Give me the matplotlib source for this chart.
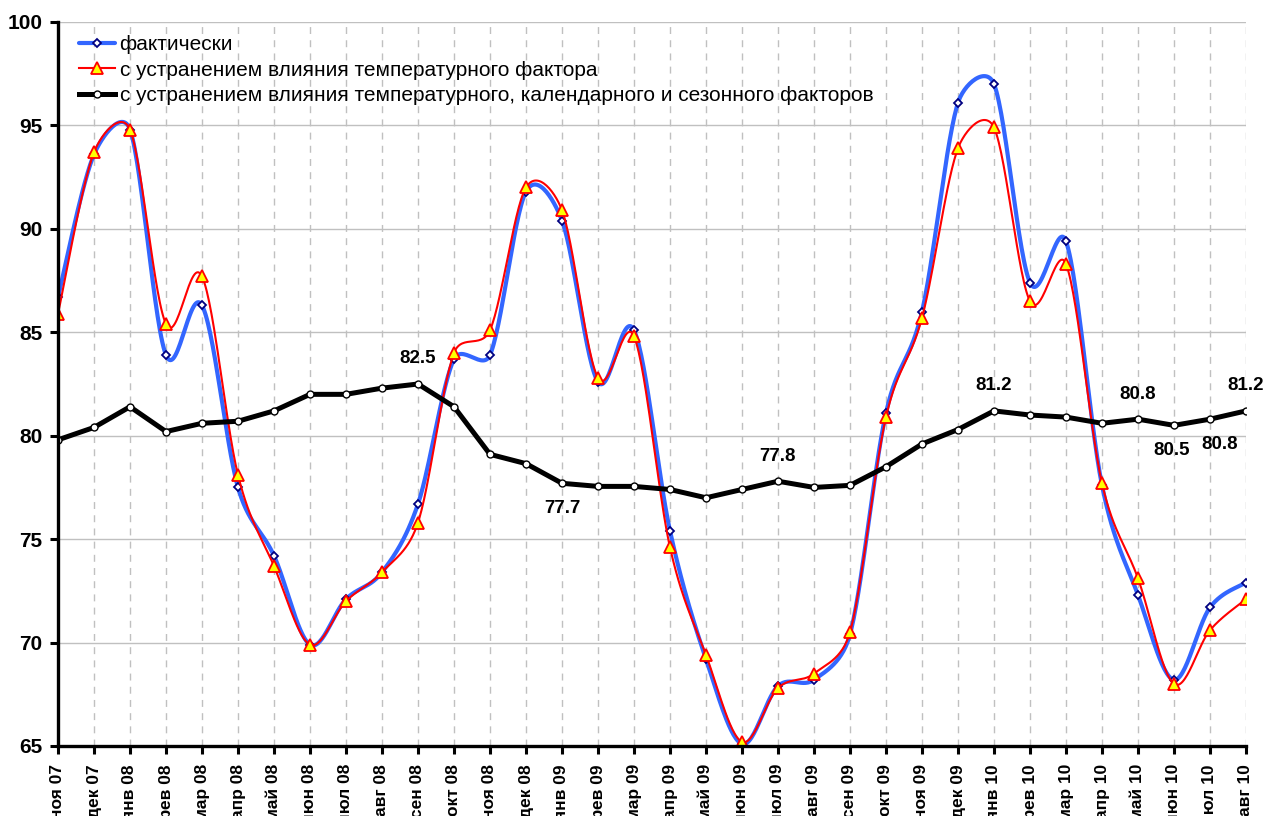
import numpy as np
import matplotlib
matplotlib.use("Agg")
import matplotlib.pyplot as plt

plt.rcParams['font.family'] = ['Liberation Sans', 'DejaVu Sans']

months = ["ноя 07", "дек 07", "янв 08", "фев 08", "мар 08", "апр 08", "май 08", "июн 08",
          "июл 08", "авг 08", "сен 08", "окт 08", "ноя 08", "дек 08", "янв 09", "фев 09",
          "мар 09", "апр 09", "май 09", "июн 09", "июл 09", "авг 09", "сен 09", "окт 09",
          "ноя 09", "дек 09", "янв 10", "фев 10", "мар 10", "апр 10", "май 10", "июн 10",
          "июл 10", "авг 10"]

actual = [86.7, 93.6, 94.8, 83.9, 86.3, 77.5, 74.2, 69.9, 72.1, 73.4, 76.7, 83.7, 83.9,
          91.8, 90.4, 82.6, 85.1, 75.4, 69.2, 65.1, 67.9, 68.2, 70.4, 81.1, 86.0, 96.1,
          97.0, 87.4, 89.4, 77.6, 72.3, 68.2, 71.7, 72.9]

temp_adj = [85.9, 93.7, 94.8, 85.4, 87.7, 78.1, 73.7, 69.9, 72.0, 73.4, 75.8, 84.0, 85.1,
            92.0, 90.9, 82.8, 84.8, 74.6, 69.4, 65.2, 67.8, 68.5, 70.5, 80.9, 85.7, 93.9,
            94.9, 86.5, 88.3, 77.7, 73.1, 68.0, 70.6, 72.1]

full_adj = [79.8, 80.4, 81.4, 80.2, 80.6, 80.7, 81.2, 82.0, 82.0, 82.3, 82.5, 81.4, 79.1,
            78.65, 77.7, 77.55, 77.55, 77.4, 77.0, 77.4, 77.8, 77.5, 77.6, 78.5, 79.6, 80.3,
            81.2, 81.0, 80.9, 80.6, 80.8, 80.5, 80.8, 81.2]

series_names = ["фактически",
                "с устранением влияния температурного фактора",
                "с устранением влияния температурного, календарного и сезонного факторов"]

label_idx = [10, 14, 20, 26, 30, 31, 32, 33]
label_side = ["above", "below", "above", "above", "above", "below", "below", "above"]
label_dx = [0, 0, 0, 0, 0, -2, 7, 0]


def smooth(ax, y, n=30):
    """Excel-like smoothed Bezier curve, computed in display space."""
    y = np.asarray(y, float)
    x = np.arange(len(y), dtype=float)
    P = ax.transData.transform(np.column_stack([x, y]))
    m = len(P)
    out = []
    t = np.linspace(0, 1, n, endpoint=False)[:, None]
    for i in range(m - 1):
        p0 = P[max(i - 1, 0)]
        p1 = P[i]
        p2 = P[i + 1]
        p3 = P[min(i + 2, m - 1)]
        d12 = np.linalg.norm(p2 - p1)
        d02 = np.linalg.norm(p2 - p0)
        d13 = np.linalg.norm(p3 - p1)
        f = 1 / 6 if d02 == 0 else min(1 / 6, d12 / (2 * d02))
        g = 1 / 6 if d13 == 0 else min(1 / 6, d12 / (2 * d13))
        c1 = p1 + (p2 - p0) * f
        c2 = p2 - (p3 - p1) * g
        b = (1 - t) ** 3 * p1 + 3 * (1 - t) ** 2 * t * c1 + 3 * (1 - t) * t ** 2 * c2 + t ** 3 * p2
        out.append(b)
    out.append(P[-1:])
    D = np.vstack(out)
    Dd = ax.transData.inverted().transform(D)
    marks = [i * n for i in range(m)]
    return Dd[:, 0], Dd[:, 1], marks


W, H = 1263, 816
fig = plt.figure(figsize=(W / 100, H / 100), dpi=100)
ax = fig.add_axes([58 / W, 1 - 746 / H, (1246 - 58) / W, (746 - 22) / H])

x = np.arange(len(months))
ax.set_xlim(0, len(months) - 1)
ax.set_ylim(65, 100)

# grid
for v in range(65, 101, 5):
    ax.axhline(v, color="#c0c0c0", lw=1.0, zorder=0)
for xi in x[1:]:
    ax.axvline(xi, color="#c0c0c0", lw=1.0, ls=(0, (5, 4.5)), zorder=0)

bx, by, bm = smooth(ax, actual)
ax.plot(bx, by, color="#3366ff", lw=3.0, marker="D", markevery=bm, markersize=4,
        markerfacecolor="white", markeredgecolor="#000080", markeredgewidth=1.3,
        label=series_names[0], zorder=3, solid_capstyle="round")

rx, ry, rm = smooth(ax, temp_adj)
ax.plot(rx, ry, color="#ff0000", lw=1.5, marker="^", markevery=rm, markersize=8,
        markerfacecolor="#ffff00", markeredgecolor="#ff0000", markeredgewidth=1.3,
        label=series_names[1], zorder=4)

ax.plot(x, full_adj, color="black", lw=3.6, marker="o", markersize=5,
        markerfacecolor="white", markeredgecolor="black", markeredgewidth=1.0,
        label=series_names[2], zorder=5, solid_joinstyle="miter")

for i, side, dx in zip(label_idx, label_side, label_dx):
    dy = 18 if side == "above" else -18
    ax.annotate(f"{full_adj[i]:.1f}", (x[i], full_adj[i]), xytext=(dx, dy),
                textcoords="offset points", ha="center", va="center",
                fontsize=13.5, fontweight="bold", zorder=6, annotation_clip=False)

ax.set_yticks(range(65, 101, 5))
ax.set_xticks(x)
ax.set_xticklabels(months, rotation=90, fontsize=12.5, fontweight="bold", va="top")
for lab in ax.get_yticklabels():
    lab.set_fontsize(15)
    lab.set_fontweight("bold")
ax.tick_params(axis="both", direction="out", length=6, width=2.2, color="black")
ax.tick_params(axis="y", pad=5)
ax.tick_params(axis="x", pad=7)

for s in ["top", "right"]:
    ax.spines[s].set_visible(False)
for s in ["left", "bottom"]:
    ax.spines[s].set_linewidth(2.4)
    ax.spines[s].set_color("black")
    ax.spines[s].set_zorder(7)

leg = ax.legend(loc="upper left", bbox_to_anchor=(79 / W, 1 - 35 / H),
                bbox_transform=fig.transFigure, frameon=False, fontsize=15,
                handlelength=1.75, handletextpad=0.2, labelspacing=0.32,
                borderpad=0, borderaxespad=0, numpoints=1)

fig.savefig("out.png", dpi=100)
